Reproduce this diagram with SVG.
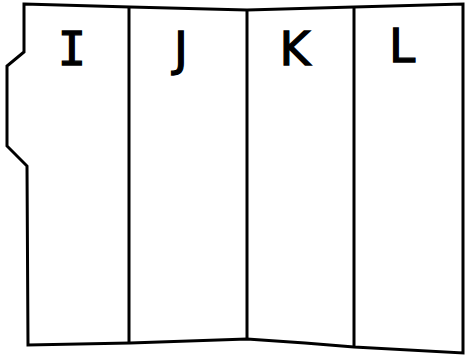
<svg xmlns="http://www.w3.org/2000/svg" width="465" height="358" viewBox="0 0 465 358">
<style>
.ln{fill:none;stroke:#000;stroke-width:3;stroke-linejoin:miter}
.lb{font-family:"DejaVu Sans",sans-serif;font-size:47px;fill:#000;stroke:#000;stroke-width:1.3;text-anchor:middle}
.mono{font-family:"DejaVu Sans Mono",monospace}
</style>
<rect width="465" height="358" fill="#fff"/>
<g id="outline">
<path class="ln" d="M24,4 L130,7 L247,10 L354,7 L463,4 L463,353 L354,347 L305,343 L247,339 L130,343 L28,345 L27,166 L7,146 L7,66 L24,52 Z"/>
</g>
<g id="connectors">
<line class="ln" x1="129" y1="7" x2="129" y2="343"/>
<line class="ln" x1="247" y1="10" x2="247" y2="339" stroke-width="2.5"/>
<line class="ln" x1="354" y1="7" x2="354" y2="347"/>
</g>
<g id="I"><text class="lb mono" x="72" y="65">I</text></g>
<g id="J"><text class="lb" x="181" y="65">J</text></g>
<g id="K"><text class="lb" x="295" y="65">K</text></g>
<g id="L"><text class="lb" x="402" y="62">L</text></g>
</svg>
